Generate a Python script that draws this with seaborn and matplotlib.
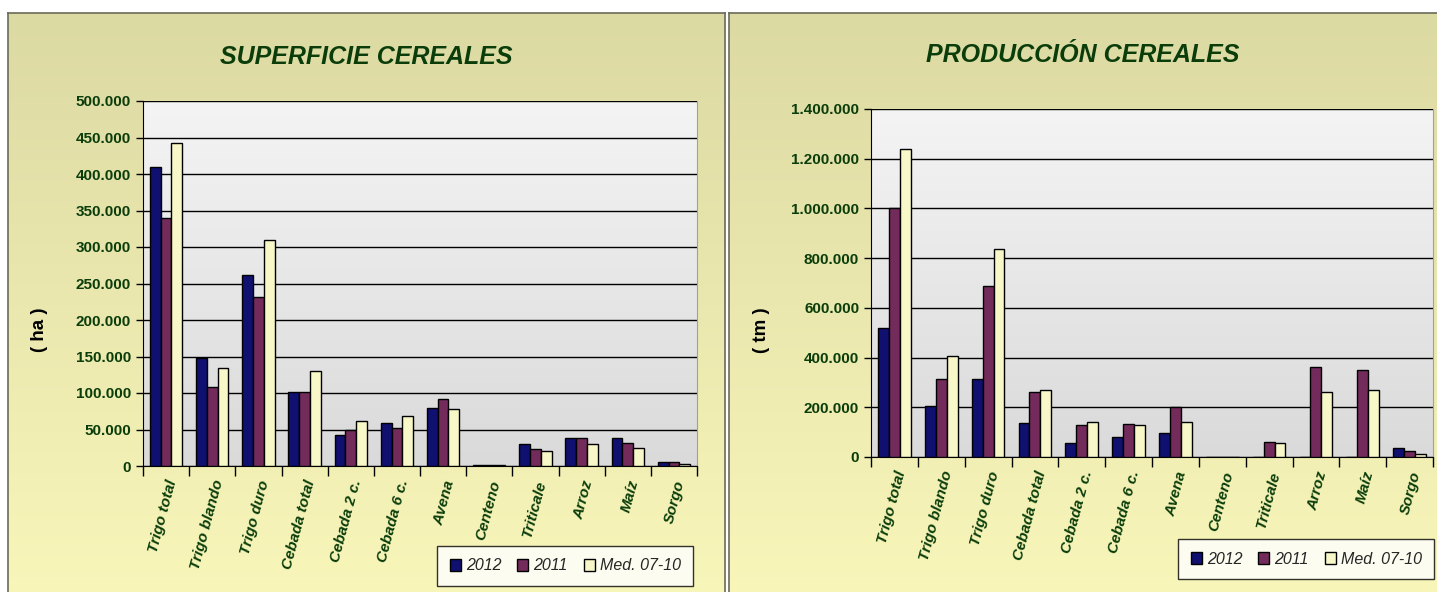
import numpy as np
import pandas as pd
import matplotlib
matplotlib.use("Agg")
import matplotlib.pyplot as plt
import seaborn as sns
from matplotlib.ticker import FuncFormatter, FixedLocator

# categories and series
cultivos = ["Trigo total", "Trigo blando", "Trigo duro", "Cebada total", "Cebada 2 c.",
            "Cebada 6 c.", "Avena", "Centeno", "Triticale", "Arroz", "Maíz", "Sorgo"]
series = ["2012", "2011", "Med. 07-10"]

# superficie (ha)
sup_2012 = [410000, 148000, 262000, 102000, 43000, 59000, 79000, 1500, 30000, 39000, 38000, 5000]
sup_2011 = [340000, 108000, 231000, 101000, 49000, 52000, 92000, 1500, 23000, 39000, 31000, 5000]
sup_med = [443000, 134000, 309000, 130000, 61000, 69000, 78000, 1000, 21000, 30000, 24000, 3000]

# produccion (tm)
prod_2012 = [520000, 205000, 315000, 137000, 56000, 80000, 98000, 2000, 0, 0, 0, 36000]
prod_2011 = [1000000, 312000, 688000, 262000, 130000, 133000, 200000, 2000, 60000, 362000, 350000, 25000]
prod_med = [1240000, 405000, 835000, 270000, 142000, 128000, 140000, 1500, 58000, 260000, 268000, 12000]

colores = ["#000080", "#7f1f5f", "#ffffc0"]
verde = "#0b3d0b"
W, H = 1437, 592


def long_df(a, b, c):
    rows = []
    for s, vals in zip(series, [a, b, c]):
        for cat, v in zip(cultivos, vals):
            rows.append({"Cultivo": cat, "Serie": s, "Valor": v})
    return pd.DataFrame(rows)


def px_axes(fig, left, top, right, bottom, **kw):
    return fig.add_axes([left / W, 1 - bottom / H, (right - left) / W, (bottom - top) / H], **kw)


def miles(v, pos):
    return f"{int(round(v)):,}".replace(",", ".")


sns.set_style("white")
plt.rcParams["font.family"] = ["Liberation Sans", "DejaVu Sans"]

fig = plt.figure(figsize=(W / 100, H / 100), dpi=100)
fig.patch.set_facecolor("white")

grad_panel = np.linspace(0, 1, 256).reshape(-1, 1)
panel_cmap = matplotlib.colors.LinearSegmentedColormap.from_list("p", ["#dcdaa3", "#f8f6b9"])
plot_cmap = matplotlib.colors.LinearSegmentedColormap.from_list("g", ["#f4f4f4", "#dadada"])

panels = [
    dict(box=(8, 13, 725, 600), ax=(143, 101, 697, 466), data=(sup_2012, sup_2011, sup_med),
         title="SUPERFICIE CEREALES", ylabel="( ha )", ymax=500000, step=50000,
         legend=(437, 566), title_y=57, ylab_x=40),
    dict(box=(729, 13, 1445, 600), ax=(871, 109, 1433, 457), data=(prod_2012, prod_2011, prod_med),
         title="PRODUCCIÓN CEREALES", ylabel="( tm )", ymax=1400000, step=200000,
         legend=(1178, 559), title_y=55, ylab_x=761),
]

for p in panels:
    bx0, by0, bx1, by1 = p["box"]
    bg = px_axes(fig, bx0, by0, bx1, by1)
    bg.imshow(grad_panel, cmap=panel_cmap, aspect="auto", extent=(0, 1, 0, 1))
    bg.set_xlim(0, 1)
    bg.set_ylim(0, 1)
    bg.set_xticks([])
    bg.set_yticks([])
    for s in bg.spines.values():
        s.set_color("#6b6b5a")
        s.set_linewidth(1.2)

    l, t, r, b = p["ax"]
    ax = px_axes(fig, l, t, r, b)
    ax.imshow(grad_panel, cmap=plot_cmap, aspect="auto", extent=(0, 1, 0, 1),
              transform=ax.transAxes, zorder=0)

    df = long_df(*p["data"])
    sns.barplot(data=df, x="Cultivo", y="Valor", hue="Serie", palette=colores,
                width=0.7, gap=0, edgecolor="black", linewidth=1.0, ax=ax,
                legend=True, zorder=3)

    ax.set_xlim(-0.5, len(cultivos) - 0.5)
    ax.set_ylim(0, p["ymax"])
    ax.set_yticks(np.arange(0, p["ymax"] + 1, p["step"]))
    ax.yaxis.set_major_formatter(FuncFormatter(miles))
    ax.grid(axis="y", color="black", linewidth=1.0, zorder=1)
    ax.set_axisbelow(True)
    ax.set_xlabel("")
    ax.set_ylabel("")

    # category separators as ticks
    ax.xaxis.set_minor_locator(FixedLocator(np.arange(-0.5, len(cultivos), 1)))
    ax.tick_params(axis="x", which="minor", length=7, width=1, color="black", direction="out", bottom=True)
    ax.tick_params(axis="x", which="major", length=0, pad=9)
    ax.tick_params(axis="y", length=5, width=1, color="black", direction="out", left=True)
    ax.set_xticks(range(len(cultivos)))
    ax.set_xticklabels(cultivos, rotation=75, ha="right", rotation_mode="anchor",
                       fontsize=11, fontweight="bold", fontstyle="italic", color=verde)
    for lab in ax.get_yticklabels():
        lab.set_fontsize(11)
        lab.set_fontweight("bold")
        lab.set_color(verde)

    ax.spines["left"].set_color("black")
    ax.spines["bottom"].set_color("black")
    ax.spines["top"].set_visible(False)
    ax.spines["right"].set_color("#a0a0a0")

    # legend
    handles, labels = ax.get_legend_handles_labels()
    ax.get_legend().remove()
    lx0, lyc = p["legend"]
    leg = fig.legend(handles, labels, ncol=3, loc="center left",
                     bbox_to_anchor=(lx0 / W, 1 - lyc / H),
                     frameon=True, fancybox=False, edgecolor="black",
                     prop={"size": 11.5, "style": "italic"},
                     handlelength=0.7, handleheight=0.7, handletextpad=0.3,
                     columnspacing=1.0, borderpad=0.8, borderaxespad=0)
    leg.get_frame().set_linewidth(1.0)
    leg.get_frame().set_facecolor("white")

    cx = (bx0 + min(bx1, W)) / 2
    fig.text(cx / W, 1 - p["title_y"] / H, p["title"], ha="center", va="center",
             fontsize=18, fontweight="bold", fontstyle="italic", color=verde)
    fig.text(p["ylab_x"] / W, 1 - 330 / H, p["ylabel"], ha="center", va="center",
             rotation=90, fontsize=13.5, fontweight="bold", color="black")

fig.savefig("out.png", dpi=100)
